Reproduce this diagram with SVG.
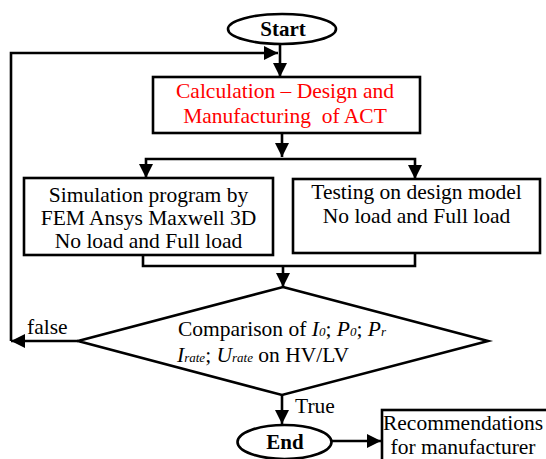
<svg xmlns="http://www.w3.org/2000/svg" width="546" height="459" viewBox="0 0 546 459">
<defs>
<marker id="ah" markerUnits="userSpaceOnUse" markerWidth="15" markerHeight="14" refX="14" refY="7" orient="auto">
<path d="M0,0 L14,7 L0,14 z" fill="#000"/>
</marker>
<style>
.shape{fill:#fff;stroke:#000;stroke-width:2.6}
.con{fill:none;stroke:#000;stroke-width:2.6}
.t{font-family:"Liberation Serif","Times New Roman","DejaVu Serif",serif;font-size:21.5px;fill:#000}
.b{font-weight:bold;font-size:21px}
.red{fill:#ff0000}
.i{font-style:italic}
.sub{font-size:13px;font-style:italic}
</style>
</defs>
<rect width="546" height="459" fill="#fff"/>
<g id="connectors">
<path class="con" d="M11 341 V53 H278" marker-end="url(#ah)"/>
<path class="con" d="M280 44 V77" marker-end="url(#ah)"/>
<path class="con" d="M282 133 V157" marker-end="url(#ah)"/>
<path class="con" d="M282 159 H146 V178" marker-end="url(#ah)"/>
<path class="con" d="M282 159 H415 V179" marker-end="url(#ah)"/>
<path class="con" d="M143 255 V266 H415 V253"/>
<path class="con" d="M283 266 V287" marker-end="url(#ah)"/>
<path class="con" d="M78 341 H11" marker-end="url(#ah)"/>
<path class="con" d="M282 395 V424" marker-end="url(#ah)"/>
<path class="con" d="M332 441 H381" marker-end="url(#ah)"/>
<text class="t" x="27" y="334">false</text>
<text class="t" x="295" y="413">True</text>
</g>
<g id="start">
<ellipse class="shape" cx="282" cy="29" rx="54" ry="15"/>
<text class="t b" x="283" y="36" text-anchor="middle">Start</text>
</g>
<g id="calc">
<rect class="shape" x="153" y="77" width="267" height="56"/>
<text class="t red" x="285" y="98" text-anchor="middle">Calculation – Design and</text>
<text class="t red" x="285" y="123" text-anchor="middle" xml:space="preserve">Manufacturing  of ACT</text>
</g>
<g id="simulation">
<rect class="shape" x="24" y="178" width="249" height="77"/>
<text class="t" x="148.5" y="202" text-anchor="middle">Simulation program by</text>
<text class="t" x="148.5" y="225" text-anchor="middle">FEM Ansys Maxwell 3D</text>
<text class="t" x="148.5" y="248" text-anchor="middle">No load and Full load</text>
</g>
<g id="testing">
<rect class="shape" x="293" y="179" width="247" height="74"/>
<text class="t" x="416.5" y="199" text-anchor="middle">Testing on design model</text>
<text class="t" x="416.5" y="223" text-anchor="middle">No load and Full load</text>
</g>
<g id="comparison">
<polygon class="shape" points="283,287 488,341 282,395 78,341"/>
<text class="t" x="178" y="336">Comparison of <tspan class="i">I</tspan><tspan class="sub">0</tspan>; <tspan class="i">P</tspan><tspan class="sub">0</tspan>; <tspan class="i">P</tspan><tspan class="sub">r</tspan></text>
<text class="t" x="177" y="362"><tspan class="i">I</tspan><tspan class="sub">rate</tspan>; <tspan class="i">U</tspan><tspan class="sub">rate</tspan> on HV/LV</text>
</g>
<g id="end">
<ellipse class="shape" cx="284.5" cy="442" rx="47" ry="17"/>
<text class="t b" x="285" y="449" text-anchor="middle">End</text>
</g>
<g id="recommendations">
<rect class="shape" x="382" y="410" width="200" height="80"/>
<text class="t" x="463" y="430" text-anchor="middle">Recommendations</text>
<text class="t" x="463" y="454" text-anchor="middle">for manufacturer</text>
</g>
</svg>
